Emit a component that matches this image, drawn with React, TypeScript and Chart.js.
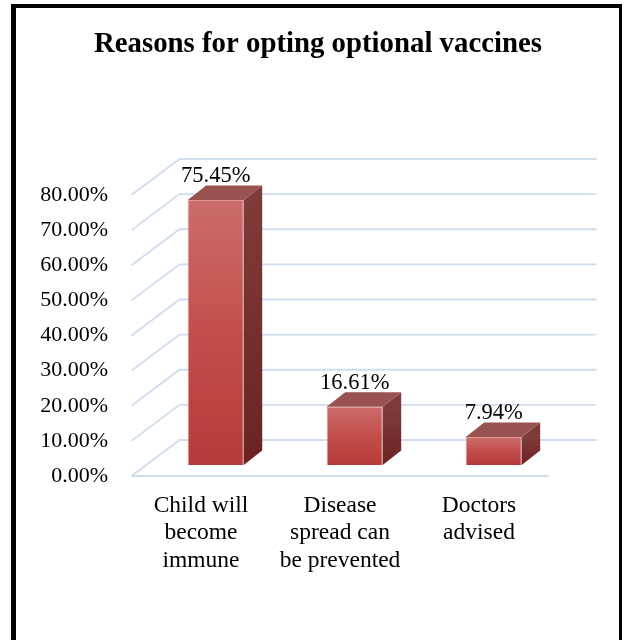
import React, { useEffect, useRef } from "react";
import { Chart, registerables } from "chart.js";
Chart.register(...registerables);

const TITLE = "Reasons for opting optional vaccines";
const CATEGORIES = [
  ["Child will", "become", "immune"],
  ["Disease", "spread can", "be prevented"],
  ["Doctors", "advised"],
];
const VALUES = [75.45, 16.61, 7.94];
const Y_MIN = 0;
const Y_MAX = 80;
const Y_STEP = 10;

const FONT = "'Liberation Serif', 'Times New Roman', serif";
const GRID = "#d1ddef";
// back wall offset relative to the front plane
const DX = 48;
const DY = -36;
// bars sit at mid depth
const BAR_SHIFT_X = 14.7;
const BAR_SHIFT_Y = -11;
const BAR_DX = 18.5;
const BAR_DY = -14.5;

const threeD = {
  id: "threeD",
  beforeDatasetsDraw(chart: any) {
    const { ctx, chartArea: a, scales } = chart;
    const y = scales.y;
    ctx.save();
    ctx.strokeStyle = GRID;
    ctx.lineWidth = 1.8;
    for (const t of y.ticks) {
      const py = y.getPixelForValue(t.value);
      ctx.beginPath();
      ctx.moveTo(a.left, py);
      ctx.lineTo(a.left + DX, py + DY);
      ctx.lineTo(a.right + DX, py + DY);
      ctx.stroke();
    }
    const p0 = y.getPixelForValue(0);
    ctx.beginPath();
    ctx.moveTo(a.left, p0);
    ctx.lineTo(a.right, p0);
    ctx.stroke();
    ctx.restore();
    ctx.save();
    ctx.translate(BAR_SHIFT_X, BAR_SHIFT_Y);
  },
  afterDatasetsDraw(chart: any) {
    const { ctx } = chart;
    const meta = chart.getDatasetMeta(0);
    meta.data.forEach((bar: any, i: number) => {
      const { x, y, base, width } = bar.getProps(["x", "y", "base", "width"], true);
      const l = x - width / 2;
      const r = x + width / 2;
      // side face
      const gs = ctx.createLinearGradient(0, y, 0, base);
      gs.addColorStop(0, "#7e3b3a");
      gs.addColorStop(1, "#6c2223");
      ctx.fillStyle = gs;
      ctx.beginPath();
      ctx.moveTo(r, y);
      ctx.lineTo(r + BAR_DX, y + BAR_DY);
      ctx.lineTo(r + BAR_DX, base + BAR_DY);
      ctx.lineTo(r, base);
      ctx.closePath();
      ctx.fill();
      // top face
      ctx.fillStyle = "#985250";
      ctx.beginPath();
      ctx.moveTo(l, y);
      ctx.lineTo(l + BAR_DX, y + BAR_DY);
      ctx.lineTo(r + BAR_DX, y + BAR_DY);
      ctx.lineTo(r, y);
      ctx.closePath();
      ctx.fill();
      // value label
      ctx.fillStyle = "#000";
      ctx.font = `22.5px ${FONT}`;
      ctx.textAlign = "center";
      ctx.textBaseline = "middle";
      ctx.fillText(`${VALUES[i].toFixed(2)}%`, x, y - 24);
    });
    ctx.restore();
  },
};

export default function App() {
  const ref = useRef<HTMLCanvasElement>(null);
  useEffect(() => {
    if (!ref.current) return;
    const chart = new Chart(ref.current, {
      type: "bar",
      data: {
        labels: CATEGORIES as any,
        datasets: [
          {
            data: VALUES,
            categoryPercentage: 1,
            barPercentage: 0.403,
            borderWidth: 1,
            borderColor: "rgba(225,140,138,0.9)",
            backgroundColor: (c: any) => {
              const ch = c.chart;
              const ys = ch.scales.y;
              if (!ch.chartArea || c.dataIndex == null || !ys) return "#c0504d";
              const top = ys.getPixelForValue(VALUES[c.dataIndex]);
              const bot = ys.getPixelForValue(0);
              const g = ch.ctx.createLinearGradient(0, top, 0, bot);
              g.addColorStop(0, "#cb6d6b");
              g.addColorStop(0.5, "#c34e4b");
              g.addColorStop(1, "#b43b39");
              return g;
            },
          },
        ],
      },
      options: {
        animation: false,
        responsive: false,
        devicePixelRatio: 1,
        layout: { padding: { top: 27.7, left: 12, right: 0, bottom: 0 } },
        plugins: {
          legend: { display: false },
          tooltip: { enabled: false },
          title: {
            display: true,
            text: TITLE,
            color: "#000",
            font: { family: FONT, size: 28.8, weight: "bold", lineHeight: 1.2 },
            padding: { top: 0, bottom: 132.74 },
          },
        },
        scales: {
          x: {
            type: "category",
            grid: { display: false, drawTicks: false },
            border: { display: false },
            ticks: {
              color: "#000",
              font: { family: FONT, size: 23.5, lineHeight: 1.17 },
              padding: 15.7,
              maxRotation: 0,
              autoSkip: false,
            },
            afterFit: (s: any) => {
              s.height = 164;
            },
          },
          y: {
            min: Y_MIN,
            max: Y_MAX,
            grid: { display: false, drawTicks: false },
            border: { display: false },
            ticks: {
              stepSize: Y_STEP,
              color: "#000",
              font: { family: FONT, size: 22 },
              padding: 23.5,
              callback: (v: any) => `${Number(v).toFixed(2)}%`,
            },
            afterFit: (s: any) => {
              s.width = 119.5;
            },
          },
          yR: {
            position: "right",
            min: 0,
            max: 1,
            display: true,
            grid: { display: false, drawTicks: false },
            border: { display: false },
            ticks: { display: false },
            afterFit: (s: any) => {
              s.width = 75.5;
            },
          },
        },
      } as any,
      plugins: [threeD],
    });
    return () => chart.destroy();
  }, []);

  return (
    <div style={{ position: "absolute", left: 0, top: 0, width: 624, height: 640, background: "#fff", overflow: "hidden" }}>
      <canvas ref={ref} width={624} height={640} style={{ display: "block", width: 624, height: 640 }} />
      <div
        style={{
          position: "absolute",
          left: 11,
          top: 4,
          width: 611,
          height: 636,
          boxSizing: "border-box",
          borderLeft: "5px solid #000",
          borderTop: "4px solid #000",
          borderRight: "3px solid #000",
          pointerEvents: "none",
        }}
      />
    </div>
  );
}
